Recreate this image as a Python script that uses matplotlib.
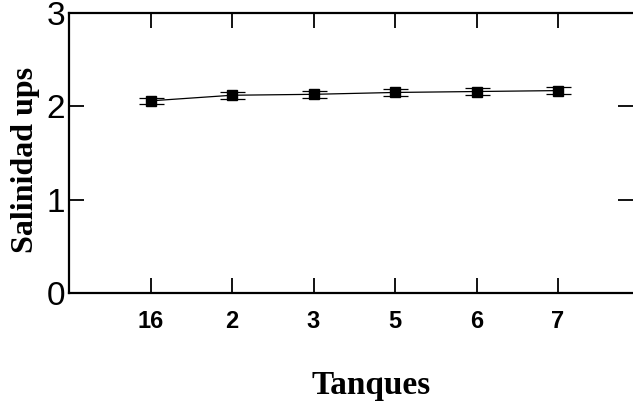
import matplotlib.pyplot as plt
import numpy as np

tanques = ["16", "2", "3", "5", "6", "7"]
salinidad = [2.06, 2.12, 2.13, 2.15, 2.16, 2.17]
error = [0.035, 0.035, 0.035, 0.035, 0.035, 0.035]

fig = plt.figure(figsize=(6.33, 4.11), dpi=100)
ax = fig.add_axes([0.109, 0.287, 0.891, 0.681])

x = np.arange(1, len(tanques) + 1)
ax.plot(x, salinidad, color="black", lw=0.9)
ax.errorbar(x, salinidad, yerr=error, fmt="s", color="black", ms=7,
            elinewidth=0.8, capsize=9, capthick=0.9)

ax.set_xlim(0, 6.92)
ax.set_ylim(0, 3)
ax.set_xticks(x)
ax.set_xticklabels(tanques, fontsize=17, fontweight="bold", family="Liberation Sans")
ax.set_yticks([0, 1, 2, 3])
ax.set_yticklabels(["0", "1", "2", "3"], fontsize=24, family="Liberation Sans")

ax.tick_params(direction="in", length=11, width=1.3, top=True, right=True,
               labeltop=False, labelright=False)
ax.tick_params(axis="x", pad=12)
ax.tick_params(axis="y", pad=3)
for s in ["left", "bottom", "top"]:
    ax.spines[s].set_linewidth(1.6)
ax.spines["right"].set_visible(False)

ax.set_xlabel("Tanques", fontsize=24, fontweight="bold", family="Liberation Serif")
ax.set_ylabel("Salinidad ups", fontsize=23, fontweight="bold", family="Liberation Serif")
ax.xaxis.set_label_coords(0.535, -0.275)
ax.yaxis.set_label_coords(-0.052, 0.475)

fig.savefig("out.png", dpi=100)
